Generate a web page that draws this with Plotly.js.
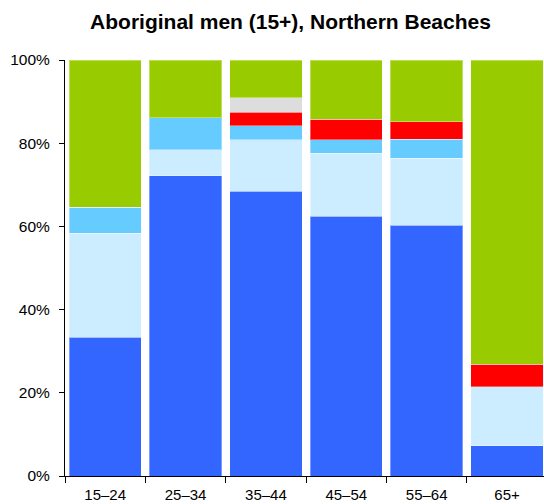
<!DOCTYPE html>
<html>
<head>
<meta charset="utf-8">
<script src="https://cdn.plot.ly/plotly-3.0.1.min.js"></script>
<style>html,body{margin:0;padding:0;background:#fff;}#chart{width:544px;height:504px;}</style>
</head>
<body>
<div id="chart"></div>
<script>
var categories = ["15–24", "25–34", "35–44", "45–54", "55–64", "65+"];
var seriesNames = ["Series A", "Series B", "Series C", "Series D", "Series E", "Series F"];
var seriesA = [33.4, 72.2, 68.5, 62.5, 60.3, 7.3];
var seriesB = [25.0, 6.2, 12.3, 15.1, 16.1, 14.2];
var seriesC = [6.2, 7.7, 3.4, 3.2, 4.5, 0];
var seriesD = [0, 0, 3.3, 4.9, 4.3, 5.4];
var seriesE = [0, 0, 3.4, 0, 0, 0];
var seriesF = [35.4, 13.9, 9.1, 14.3, 14.8, 73.1];
var colors = ["#3366FF", "#CCECFF", "#66CCFF", "#FF0000", "#DDDDDD", "#99CC00"];
var yTickVals = [0, 20, 40, 60, 80, 100];
var yTickText = ["0%", "20%", "40%", "60%", "80%", "100%"];

var allSeries = [seriesA, seriesB, seriesC, seriesD, seriesE, seriesF];
var traces = allSeries.map(function (vals, i) {
  return {
    type: "bar",
    name: seriesNames[i],
    x: categories,
    y: vals,
    marker: {color: colors[i], line: {width: 1, color: "rgba(255,255,255,0.35)"}},
    hoverinfo: "x+y+name"
  };
});

var layout = {
  width: 544,
  height: 504,
  barmode: "stack",
  bargap: 0.1,
  showlegend: false,
  paper_bgcolor: "#ffffff",
  plot_bgcolor: "#ffffff",
  margin: {l: 65, r: 0, t: 60, b: 28},
  font: {family: "Liberation Sans, Arial, sans-serif", size: 15, color: "#000"},
  title: {
    text: "<b>Aboriginal men (15+), Northern Beaches</b>",
    font: {family: "Liberation Sans, Arial, sans-serif", size: 21, color: "#000"},
    x: 290.5 / 544, xref: "container", xanchor: "center",
    y: 1 - 22 / 504, yref: "container", yanchor: "middle"
  },
  xaxis: {
    type: "category",
    range: [-0.5, 5.46],
    showline: true, linecolor: "#000", linewidth: 1,
    ticks: "outside", ticklen: 6, tickcolor: "#000",
    tickson: "boundaries",
    ticklabelstandoff: 5,
    showgrid: false, zeroline: false,
    tickfont: {size: 15}
  },
  yaxis: {
    range: [0, 100],
    tickmode: "array",
    tickvals: yTickVals,
    ticktext: yTickText,
    showline: true, linecolor: "#000", linewidth: 1,
    ticks: "outside", ticklen: 5, tickcolor: "#000",
    ticklabelstandoff: 6,
    showgrid: false, zeroline: false,
    tickfont: {size: 15.5}
  }
};

Plotly.newPlot("chart", traces, layout, {displayModeBar: false, staticPlot: true});
</script>
</body>
</html>
